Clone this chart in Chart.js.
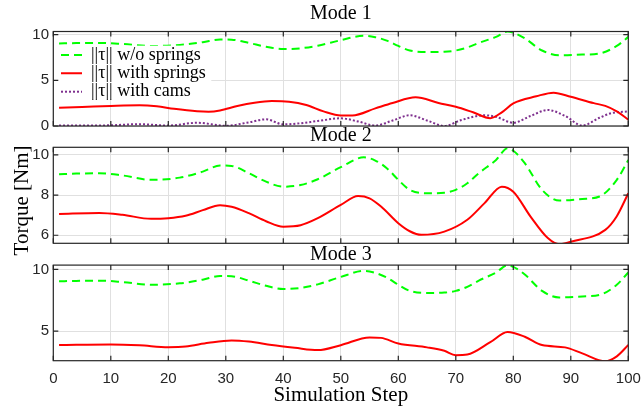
<!DOCTYPE html>
<html>
<head>
<meta charset="utf-8">
<title>Torque per mode</title>
<script src="https://cdn.jsdelivr.net/npm/chart.js@4.4.1/dist/chart.umd.min.js"></script>
<style>
  body { margin: 0; background: #fff; }
  #wrap { position: relative; width: 641px; height: 412px; overflow: hidden; }
  #wrap canvas { position: absolute; left: 0; }
</style>
</head>
<body>
<div id="wrap">
  <canvas id="mode1" width="641" height="130" style="top:0px"></canvas>
  <canvas id="mode2" width="641" height="150" style="top:120px"></canvas>
  <canvas id="mode3" width="641" height="172" style="top:240px"></canvas>
</div>
<script>
// tick values
const xTickValues = [0, 10, 20, 30, 40, 50, 60, 70, 80, 90, 100];
const mode1Ticks = [0, 5, 10];
const mode2Ticks = [6, 8, 10];
const mode3Ticks = [5, 10];

// ||tau|| without springs (same curve in every mode)
const noSpringSteps  = [1, 4, 8, 12, 17, 22, 26, 29, 31, 34, 37, 40, 43, 46, 50, 54, 56, 58, 60, 62, 65, 68, 70, 72, 74, 77, 79, 80, 82, 85, 88, 92, 95, 98, 100];
const noSpringTorque = [9.04, 9.07, 9.09, 8.98, 8.76, 8.87, 9.17, 9.47, 9.45, 9.09, 8.67, 8.42, 8.5, 8.79, 9.39, 9.88, 9.72, 9.34, 8.76, 8.26, 8.09, 8.12, 8.26, 8.59, 9.09, 9.75, 10.33, 10.21, 9.59, 8.26, 7.73, 7.81, 7.93, 8.76, 9.75];

// mode 1, with springs / with cams
const mode1SpringSteps  = [1, 5, 10, 15, 18, 21, 25, 27, 29, 32, 35, 38, 41, 44, 47, 50, 52, 56, 59, 63, 67, 70, 73, 76, 78, 80, 84, 87, 90, 94, 96, 98, 100];
const mode1SpringTorque = [2.0, 2.08, 2.19, 2.26, 2.15, 1.88, 1.62, 1.57, 1.7, 2.19, 2.55, 2.73, 2.66, 2.3, 1.6, 1.15, 1.15, 1.93, 2.52, 3.14, 2.52, 2.11, 1.5, 0.85, 1.5, 2.48, 3.25, 3.65, 3.2, 2.5, 2.2, 1.6, 0.7];
const mode1CamSteps  = [1, 5, 10, 15, 20, 25, 30, 34, 37, 40, 43, 46, 50, 53, 56, 59, 62, 65, 68, 71, 75, 77, 80, 83, 86, 89, 92, 95, 97, 100];
const mode1CamTorque = [0.05, 0.05, 0.08, 0.2, 0.05, 0.35, 0.03, 0.4, 0.73, 0.18, 0.3, 0.55, 0.84, 0.5, 0.05, 0.6, 1.17, 0.6, 0.0, 0.66, 1.17, 1.0, 0.36, 1.1, 1.75, 1.1, 0.05, 0.9, 1.4, 1.6];

// mode 2, with springs
const mode2SpringSteps  = [1, 8, 12, 17, 20, 23, 26, 29, 31, 34, 37, 40, 43, 46, 50, 53, 55, 57, 60, 62, 64, 68, 72, 75, 78, 80, 83, 86, 88, 90, 96, 98, 100];
const mode2SpringTorque = [7.06, 7.11, 7.02, 6.82, 6.85, 6.97, 7.25, 7.5, 7.42, 7.1, 6.7, 6.43, 6.5, 6.85, 7.51, 7.95, 7.84, 7.43, 6.6, 6.2, 6.02, 6.18, 6.77, 7.6, 8.42, 8.17, 6.93, 5.86, 5.55, 5.68, 6.27, 6.95, 8.09];

// mode 3, with springs
const mode3SpringSteps  = [1, 10, 15, 20, 23, 27, 31, 34, 38, 42, 46, 50, 55, 57, 60, 65, 68, 70, 72, 76, 79, 82, 85, 89, 92, 96, 98, 100];
const mode3SpringTorque = [3.87, 3.92, 3.85, 3.7, 3.75, 4.05, 4.24, 4.15, 3.87, 3.65, 3.46, 3.86, 4.49, 4.45, 4.0, 3.68, 3.4, 3.05, 3.1, 4.1, 4.92, 4.54, 3.87, 3.68, 3.19, 2.55, 2.95, 3.87];

const SERIF = '"Liberation Serif", "Times New Roman", serif';
const SANS = '"Liberation Sans", Arial, sans-serif';
const AXIS_COLOR = '#262626';

function toPoints(xs, ys) {
  return xs.map((x, i) => ({ x: x, y: ys[i] }));
}

function noSpringSet() {
  return { label: '||τ|| w/o springs', data: toPoints(noSpringSteps, noSpringTorque),
           borderColor: '#00ff00', borderWidth: 2, borderDash: [8, 5] };
}
function springSet(xs, ys) {
  return { label: '||τ|| with springs', data: toPoints(xs, ys),
           borderColor: '#ff0000', borderWidth: 2 };
}
function camSet(xs, ys) {
  return { label: '||τ|| with cams', data: toPoints(xs, ys),
           borderColor: '#7e2f8e', borderWidth: 2, borderDash: [2, 2] };
}

// legend samples take the dataset's own line style
function lineLabels(chart) {
  const items = Chart.defaults.plugins.legend.labels.generateLabels(chart);
  items.forEach(it => {
    const ds = chart.data.datasets[it.datasetIndex];
    it.lineDash = ds.borderDash || [];
    it.lineWidth = ds.borderWidth;
    it.strokeStyle = ds.borderColor;
  });
  return items;
}

// box with inward tick marks on all four sides
const framePlugin = {
  id: 'frame',
  afterDraw(chart) {
    const { ctx, chartArea: a, scales } = chart;
    ctx.save();
    ctx.strokeStyle = AXIS_COLOR;
    ctx.lineWidth = 1.2;
    ctx.beginPath();
    scales.x.ticks.forEach(t => {
      const px = scales.x.getPixelForValue(t.value);
      ctx.moveTo(px, a.bottom); ctx.lineTo(px, a.bottom - 5);
      ctx.moveTo(px, a.top); ctx.lineTo(px, a.top + 5);
    });
    scales.y.ticks.forEach(t => {
      const py = scales.y.getPixelForValue(t.value);
      ctx.moveTo(a.left, py); ctx.lineTo(a.left + 5, py);
      ctx.moveTo(a.right, py); ctx.lineTo(a.right - 5, py);
    });
    ctx.stroke();
    ctx.strokeRect(a.left, a.top, a.right - a.left, a.bottom - a.top);
    ctx.restore();
  }
};

// legend sits inside the plot, top-left, on a white patch
const legendBoxPlugin = {
  id: 'legendBox',
  afterLayout(chart) {
    const lg = chart.legend;
    if (!lg || !lg.options.display) return;
    const a = chart.chartArea;
    lg.left = a.left + 7.35;
    lg.top = a.top + 14.15;
    lg.width = 165;
    lg.height = 62;
    lg.right = lg.left + lg.width;
    lg.bottom = lg.top + lg.height;
  },
  afterDatasetsDraw(chart) {
    const lg = chart.legend;
    if (!lg || !lg.options.display) return;
    const { ctx, chartArea: a } = chart;
    ctx.save();
    ctx.fillStyle = '#fff';
    ctx.fillRect(a.left + 1, lg.top, 157, 54);
    ctx.restore();
    lg.draw();
  }
};

// rotated label on the left of the middle panel
const sideLabelPlugin = {
  id: 'sideLabel',
  afterDraw(chart, args, opts) {
    if (!opts || !opts.text) return;
    const { ctx, chartArea: a } = chart;
    ctx.save();
    ctx.translate(opts.x, (a.top + a.bottom) / 2 + opts.dy);
    ctx.rotate(-Math.PI / 2);
    ctx.font = '21px ' + SERIF;
    ctx.fillStyle = '#000';
    ctx.textAlign = 'center';
    ctx.textBaseline = 'middle';
    ctx.fillText(opts.text, 0, 0);
    ctx.restore();
  }
};

function makePanel(id, cfg) {
  return new Chart(document.getElementById(id), {
    type: 'line',
    data: { datasets: cfg.datasets },
    options: {
      responsive: false,
      animation: false,
      devicePixelRatio: 1,
      layout: { padding: { left: 0, right: 12.7, top: 0, bottom: cfg.padBottom } },
      elements: {
        point: { radius: 0 },
        line: { cubicInterpolationMode: 'monotone', fill: false }
      },
      plugins: {
        title: {
          display: true, text: cfg.title, fullSize: false, color: '#000',
          font: { family: SERIF, size: 20, weight: 'normal', lineHeight: 1 },
          padding: { top: cfg.titleTop, bottom: cfg.titleBottom }
        },
        legend: cfg.legend ? {
          display: true, position: 'chartArea', align: 'start',
          labels: {
            usePointStyle: true, pointStyle: 'line', pointStyleWidth: 21,
            padding: 0.35, color: '#000',
            font: { family: SERIF, size: 18 },
            generateLabels: lineLabels
          }
        } : { display: false },
        tooltip: { enabled: false },
        sideLabel: cfg.sideLabel || {}
      },
      scales: {
        x: {
          type: 'linear', min: 0, max: 100,
          afterBuildTicks: s => { s.ticks = xTickValues.map(v => ({ value: v })); },
          afterFit: s => { s.height = cfg.xHeight; s.paddingLeft = 0; s.paddingRight = 0; },
          grid: { color: '#e0e0e0', lineWidth: 1, drawTicks: false },
          border: { display: false },
          ticks: { display: cfg.xLabels, padding: 8.8, color: AXIS_COLOR, maxRotation: 0,
                   font: { family: SANS, size: 15 } },
          title: cfg.xLabels ? {
            display: true, text: 'Simulation Step', color: '#000',
            font: { family: SERIF, size: 21, lineHeight: 1 },
            padding: { top: 0, bottom: 6.5 }
          } : { display: false }
        },
        y: {
          min: cfg.yMin, max: cfg.yMax,
          afterBuildTicks: s => { s.ticks = cfg.yTicks.map(v => ({ value: v })); },
          afterFit: s => { s.width = 53.3; s.paddingTop = 0; s.paddingBottom = 0; },
          grid: { color: '#e0e0e0', lineWidth: 1, drawTicks: false },
          border: { display: false },
          ticks: { padding: 4.3, color: AXIS_COLOR, font: { family: SANS, size: 15 } }
        }
      }
    },
    plugins: [framePlugin, legendBoxPlugin, sideLabelPlugin]
  });
}

makePanel('mode1', {
  title: 'Mode 1', titleTop: 4.1, titleBottom: 7.4, padBottom: 4,
  yMin: 0, yMax: 10.34, yTicks: mode1Ticks, xLabels: false, xHeight: 0, legend: true,
  datasets: [noSpringSet(), springSet(mode1SpringSteps, mode1SpringTorque), camSet(mode1CamSteps, mode1CamTorque)]
});

makePanel('mode2', {
  title: 'Mode 2', titleTop: 6.1, titleBottom: 1.2, padBottom: 26.7,
  yMin: 5.6, yMax: 10.38, yTicks: mode2Ticks, xLabels: false, xHeight: 0,
  sideLabel: { text: 'Torque [Nm]', x: 22.3, dy: 5.2 },
  datasets: [noSpringSet(), springSet(mode2SpringSteps, mode2SpringTorque)]
});

makePanel('mode3', {
  title: 'Mode 3', titleTop: 5.1, titleBottom: 0, padBottom: 0,
  yMin: 2.6, yMax: 10.35, yTicks: mode3Ticks, xLabels: true, xHeight: 51.3,
  datasets: [noSpringSet(), springSet(mode3SpringSteps, mode3SpringTorque)]
});
</script>
</body>
</html>
